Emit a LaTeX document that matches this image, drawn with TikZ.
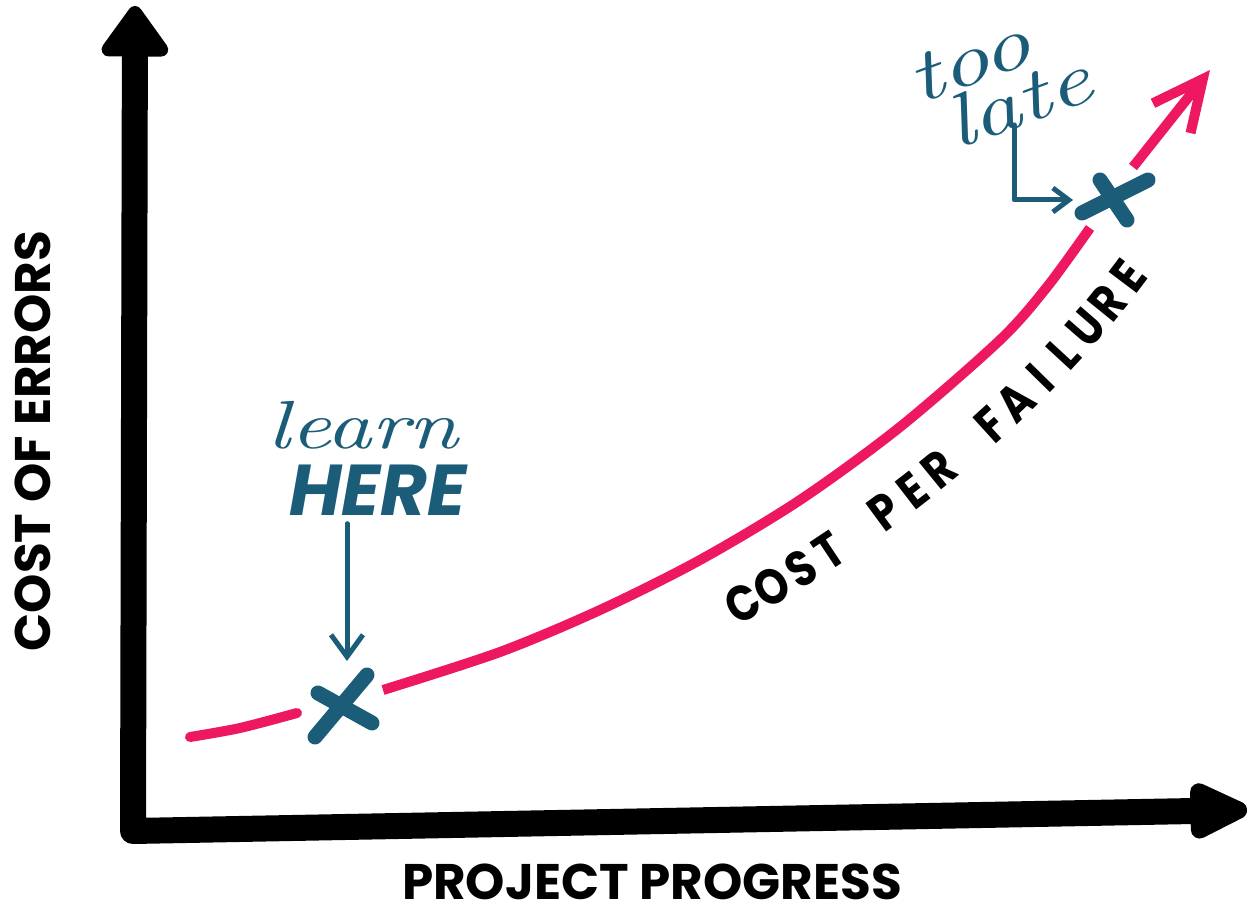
\documentclass[tikz,border=0pt]{standalone}
\usepackage{fontspec}
\usepackage{tikz}
\usetikzlibrary{arrows.meta}
\newfontfamily\labelfont{Poppins}
\newfontfamily\markerfont{Poppins}[FakeStretch=0.85]
\newfontfamily\handfont{lmroman10-italic.otf}[FakeStretch=1.3]
\definecolor{curvepink}{RGB}{238,23,97}
\definecolor{noteblue}{RGB}{27,92,121}

\begin{document}
\begin{tikzpicture}
[
    x = 0.5pt, y = -0.5pt,
    axis/.style = {line width = 13pt, line join = round, black},
    curve/.style = {line width = 5pt, curvepink},
    note/.style = {line width = 2.5pt, noteblue, line cap = round, line join = round},
    cross/.style = {line width = 7.5pt, noteblue, line cap = round},
    axislabel/.style = {font = \labelfont\bfseries\fontsize{25}{25}\selectfont, inner sep = 0pt},
    letter/.style = {font = \markerfont\bfseries\fontsize{25}{25}\selectfont, inner sep = 0pt, sloped, anchor = base},
    hand/.style = {noteblue, font = \handfont\fontsize{34}{34}\selectfont, inner sep = 0pt},
]

\useasboundingbox (0,0) rectangle (1248,914);

\coordinate (origin) at (133,831);
\coordinate (ytop) at (135,6);
\coordinate (xend) at (1247,810);
\coordinate (xa) at (347,705);
\coordinate (xb) at (1117,200);
\coordinate (lt) at (1014,125);

\draw[axis, {Triangle[length = 28pt, width = 38pt, round]}-{Triangle[length = 35pt, width = 30pt, round]}] (ytop) -- (origin) -- (xend);

\node[axislabel, rotate = 90] (ylabel) at (33,441) {COST OF ERRORS};
\node[axislabel] (xlabel) at (652,882) {PROJECT PROGRESS};

\draw[curve, line cap = round] plot[smooth] coordinates {(190,737) (240,728) (297,713)};
\draw[curve] plot[smooth] coordinates {(383,690) (500,652) (600,610) (700,560) (800,500) (900,427) (1000,340) (1047,287) (1090,228)};
\draw[curve, -{Straight Barb[length = 25pt, width = 24pt]}] (1133,167) -- (1210,70);

\path (737,627) .. controls (894,540) and (1046,419) .. (1152,273)
    \foreach \ch [count = \i] in {C,O,S,T,{},P,E,R,{},F,A,I,L,U,R,E} {
        node[letter, pos = (\i-0.5)/16] (ch\i) {\ch}
    };

\draw[cross] (xa) ++(-32,32) -- ++(52,-62);
\draw[cross] (xa) ++(-29,-12) -- ++(54,30);
\draw[cross] (xb) ++(-35,13) -- ++(66,-33);
\draw[cross] (xb) ++(-17,-20) -- ++(27,40);

\node[hand] (learn) at (363,425) {learn};
\node[hand, font = \labelfont\bfseries\itshape\fontsize{36}{36}\selectfont] (here) at (378,490) {HERE};
\draw[note, -{Straight Barb[length = 11pt, width = 16pt]}, shorten >= 22pt] (here.south -| xa) ++(0,8) -- (xa);

\node[hand, rotate = 20, align = left, font = \handfont\fontsize{37}{28}\selectfont] (toolate) at (1000,80) {too\\\hspace{10pt}late};
\draw[note, -{Straight Barb[length = 8pt, width = 12pt]}, shorten >= 22pt] (lt) |- (xb);

\end{tikzpicture}
\end{document}
